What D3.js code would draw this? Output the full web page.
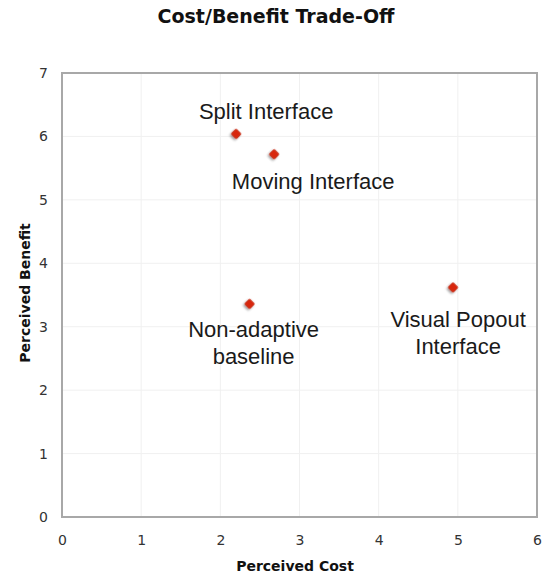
<!DOCTYPE html>
<html>
<head>
<meta charset="utf-8">
<script src="https://cdn.jsdelivr.net/npm/d3@7"></script>
<style>
  body { margin: 0; background: #fff; }
  svg { display: block; }
</style>
</head>
<body>
<div id="chart"></div>
<script>
// data
const names = ['Split Interface', 'Moving Interface', 'Non-adaptive baseline', 'Visual Popout Interface'];
const costs = [2.2, 2.68, 2.37, 4.94];
const benefits = [6.04, 5.72, 3.36, 3.62];
const xTicks = [0, 1, 2, 3, 4, 5, 6];
const yTicks = [0, 1, 2, 3, 4, 5, 6, 7];

// label placement (lines + offset of the text centre/baseline from the point)
const labelLines = [['Split Interface'], ['Moving Interface'], ['Non-adaptive', 'baseline'], ['Visual Popout', 'Interface']];
const labelOffsets = [[30, -15], [39, 35], [4, 33], [5, 40]];

const W = 546, H = 577;
const margin = { top: 73, right: 9, bottom: 60, left: 62 };

const svg = d3.select('#chart').append('svg')
  .attr('width', W).attr('height', H);

const defs = svg.append('defs');
const f = defs.append('filter').attr('id', 'shadow')
  .attr('x', '-50%').attr('y', '-50%').attr('width', '200%').attr('height', '200%');
f.append('feDropShadow').attr('dx', 0).attr('dy', 2).attr('stdDeviation', 1.2)
  .attr('flood-color', '#000').attr('flood-opacity', 0.4);

const x = d3.scaleLinear().domain([0, 6]).range([margin.left, W - margin.right]);
const y = d3.scaleLinear().domain([0, 7]).range([H - margin.bottom, margin.top]);

// grid
svg.append('g').selectAll('line').data(xTicks.slice(1, -1)).join('line')
  .attr('x1', d => x(d)).attr('x2', d => x(d))
  .attr('y1', y(0)).attr('y2', y(7))
  .attr('stroke', '#f0f0f0').attr('stroke-width', 1);
svg.append('g').selectAll('line').data(yTicks.slice(1, -1)).join('line')
  .attr('x1', x(0)).attr('x2', x(6))
  .attr('y1', d => y(d)).attr('y2', d => y(d))
  .attr('stroke', '#f0f0f0').attr('stroke-width', 1);

// frame
svg.append('rect')
  .attr('x', x(0)).attr('y', y(7))
  .attr('width', x(6) - x(0)).attr('height', y(0) - y(7))
  .attr('fill', 'none').attr('stroke', '#a8a8a8').attr('stroke-width', 2);

// axes
const xAxis = svg.append('g')
  .attr('transform', `translate(0,${y(0) + 12})`)
  .call(d3.axisBottom(x).tickValues(xTicks).tickSize(0).tickPadding(6).tickFormat(d3.format('d')));
const yAxis = svg.append('g')
  .attr('transform', `translate(${x(0) - 6},0)`)
  .call(d3.axisLeft(y).tickValues(yTicks).tickSize(0).tickPadding(8).tickFormat(d3.format('d')));
[xAxis, yAxis].forEach(g => {
  g.select('.domain').remove();
  g.selectAll('text')
    .attr('fill', '#333')
    .style('font-family', 'DejaVu Sans, Verdana, sans-serif')
    .style('font-size', '14px');
});

// title & axis titles
svg.append('text')
  .attr('x', 276).attr('y', 23)
  .attr('text-anchor', 'middle')
  .style('font-family', 'DejaVu Sans, Verdana, sans-serif')
  .style('font-size', '19px').style('font-weight', 'bold')
  .attr('fill', '#111')
  .text('Cost/Benefit Trade-Off');

svg.append('text')
  .attr('x', 295).attr('y', 571)
  .attr('text-anchor', 'middle')
  .style('font-family', 'DejaVu Sans, Verdana, sans-serif')
  .style('font-size', '14px').style('font-weight', 'bold')
  .attr('fill', '#111')
  .text('Perceived Cost');

svg.append('text')
  .attr('transform', `translate(30,293) rotate(-90)`)
  .attr('text-anchor', 'middle')
  .style('font-family', 'DejaVu Sans, Verdana, sans-serif')
  .style('font-size', '14px').style('font-weight', 'bold')
  .attr('fill', '#111')
  .text('Perceived Benefit');

// points
const pts = names.map((n, i) => ({ name: n, cost: costs[i], benefit: benefits[i], lines: labelLines[i], off: labelOffsets[i] }));

svg.append('g').selectAll('rect').data(pts).join('rect')
  .attr('x', -3.6).attr('y', -3.6).attr('width', 7.2).attr('height', 7.2).attr('rx', 1)
  .attr('transform', d => `translate(${x(d.cost)},${y(d.benefit)}) rotate(45)`)
  .attr('fill', '#d8260e')
  .attr('stroke', '#b81a00').attr('stroke-width', 0.6)
  .attr('filter', 'url(#shadow)');

// labels
const lbl = svg.append('g').selectAll('text').data(pts).join('text')
  .attr('text-anchor', 'middle')
  .style('font-family', 'Liberation Sans, Arial, Helvetica, sans-serif')
  .style('font-size', '22px')
  .attr('fill', '#1a1a1a');
lbl.each(function (d) {
  const t = d3.select(this);
  d.lines.forEach((line, j) => {
    t.append('tspan')
      .attr('x', x(d.cost) + d.off[0])
      .attr('y', y(d.benefit) + d.off[1] + j * 27)
      .text(line);
  });
});
</script>
</body>
</html>
